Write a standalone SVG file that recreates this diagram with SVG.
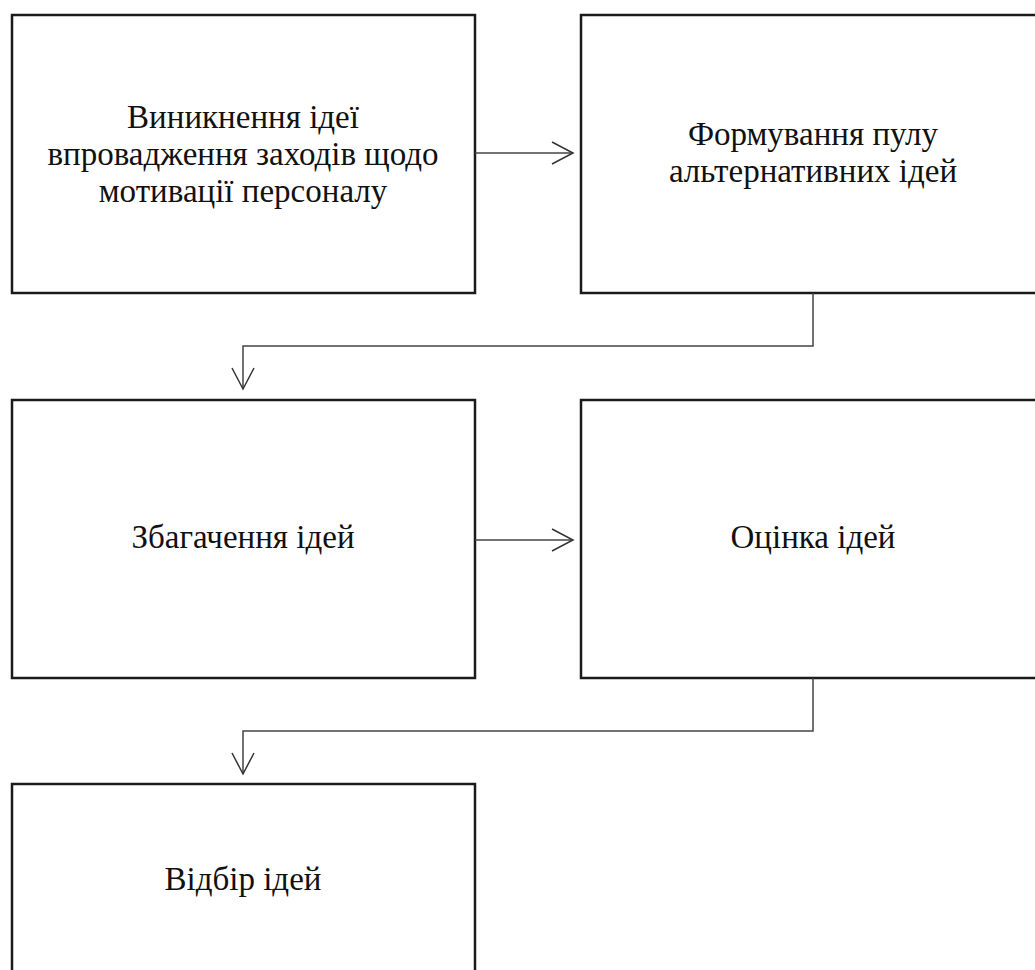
<svg xmlns="http://www.w3.org/2000/svg" width="1035" height="970" viewBox="0 0 1035 970">
<style>
.box{fill:#fff;stroke:#1a1a1a;stroke-width:2.5}
.lbl{font-family:"Liberation Serif","Times New Roman",serif;font-size:33px;fill:#111;text-anchor:middle}
.con{fill:none;stroke:#444;stroke-width:1.5}
</style>
<defs>
<marker id="arr" viewBox="0 0 24 24" refX="22" refY="12" markerWidth="24" markerHeight="24" markerUnits="userSpaceOnUse" orient="auto">
<path d="M1,1 L22,12 L1,23" fill="none" stroke="#333" stroke-width="1.5"/>
</marker>
</defs>
<rect width="1035" height="970" fill="#fff"/>
<g id="n1"><rect class="box" x="12" y="15" width="463" height="278"/>
<text class="lbl" x="243" y="128">Виникнення ідеї</text>
<text class="lbl" x="243" y="165">впровадження заходів щодо</text>
<text class="lbl" x="243" y="202">мотивації персоналу</text></g>
<g id="n2"><rect class="box" x="581" y="15" width="470" height="278"/>
<text class="lbl" x="813" y="145">Формування пулу</text>
<text class="lbl" x="813" y="182">альтернативних ідей</text></g>
<g id="n3"><rect class="box" x="12" y="400" width="463" height="278"/>
<text class="lbl" x="243" y="548">Збагачення ідей</text></g>
<g id="n4"><rect class="box" x="581" y="400" width="470" height="278"/>
<text class="lbl" x="813" y="548">Оцінка ідей</text></g>
<g id="n5"><rect class="box" x="12" y="784" width="463" height="200"/>
<text class="lbl" x="243" y="890">Відбір ідей</text></g>
<g id="connectors">
<path class="con" d="M475,153 H573" marker-end="url(#arr)"/>
<path class="con" d="M813,293 V346 H243 V389" marker-end="url(#arr)"/>
<path class="con" d="M475,540 H573" marker-end="url(#arr)"/>
<path class="con" d="M813,678 V731 H243 V774" marker-end="url(#arr)"/>
</g>
</svg>
